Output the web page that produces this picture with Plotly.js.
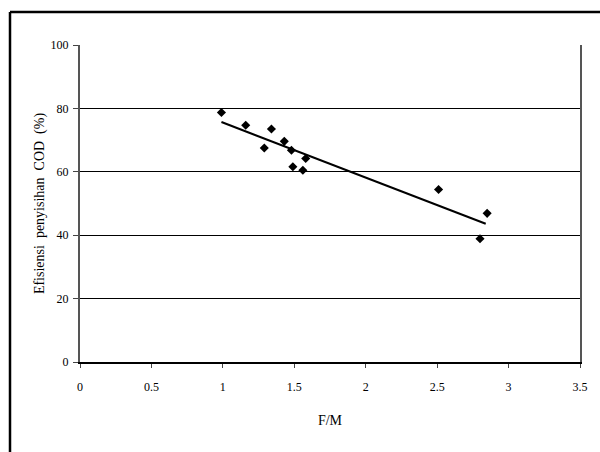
<!DOCTYPE html>
<html>
<head>
<meta charset="utf-8">
<script src="https://cdn.plot.ly/plotly-3.0.1.min.js"></script>
<style>html,body{margin:0;padding:0;background:#fff;}#chart{width:600px;height:452px;}</style>
</head>
<body>
<div id="chart"></div>
<script>
var fmValues = [0.99, 1.16, 1.34, 1.29, 1.43, 1.48, 1.49, 1.56, 1.58, 2.51, 2.85, 2.80];
var codRemoval = [78.7, 74.7, 73.5, 67.5, 69.6, 66.8, 61.6, 60.5, 64.2, 54.4, 46.9, 38.9];
var trendX = [0.99, 2.84];
var trendY = [75.7, 43.6];
var xTicks = [0, 0.5, 1, 1.5, 2, 2.5, 3, 3.5];
var xTickLabels = ['0', '0.5', '1', '1.5', '2', '2.5', '3', '3.5'];
var yTicks = [0, 20, 40, 60, 80, 100];

var serif = "'Liberation Serif', 'Times New Roman', serif";

var data = [
  {x: fmValues, y: codRemoval, type: 'scatter', mode: 'markers',
   marker: {symbol: 'diamond', size: 7, color: '#000'}, showlegend: false, cliponaxis: false},
  {x: trendX, y: trendY, type: 'scatter', mode: 'lines',
   line: {color: '#000', width: 2}, showlegend: false}
];

var layout = {
  width: 600, height: 452,
  margin: {l: 80, r: 20, t: 45, b: 90},
  paper_bgcolor: '#fff', plot_bgcolor: '#fff',
  font: {family: serif, color: '#000', size: 12},
  xaxis: {
    range: [0, 3.5], tickvals: xTicks, ticktext: xTickLabels,
    showgrid: false, zeroline: false,
    showline: true, linecolor: '#000', linewidth: 2, mirror: false,
    ticks: 'outside', ticklen: 4, tickcolor: '#444', tickwidth: 1,
    ticklabelstandoff: 9,
    tickfont: {family: serif, size: 12, color: '#000'},
    title: {text: 'F/M', font: {family: serif, size: 14, color: '#000'}, standoff: 22}
  },
  yaxis: {
    range: [0, 100], tickvals: yTicks,
    showgrid: true, gridcolor: '#000', gridwidth: 1, zeroline: false,
    showline: true, linecolor: '#555', linewidth: 2, mirror: true,
    ticks: 'outside', ticklen: 5, tickcolor: '#444', tickwidth: 1,
    ticklabelstandoff: 2,
    tickfont: {family: serif, size: 12, color: '#000'},
    title: {text: 'Efisiensi&nbsp; penyisihan&nbsp; COD&nbsp; (%)', font: {family: serif, size: 14, color: '#000'}, standoff: 3}
  },
  shapes: [
    {type: 'line', xref: 'paper', yref: 'paper', x0: -0.14, x1: -0.14, y0: -0.4, y1: 1.104,
     line: {color: '#000', width: 2.5}},
    {type: 'line', xref: 'paper', yref: 'paper', x0: -0.14, x1: 1.2, y0: 1.104, y1: 1.104,
     line: {color: '#000', width: 2.5}}
  ]
};

Plotly.newPlot('chart', data, layout, {displayModeBar: false, staticPlot: true});
</script>
</body>
</html>
